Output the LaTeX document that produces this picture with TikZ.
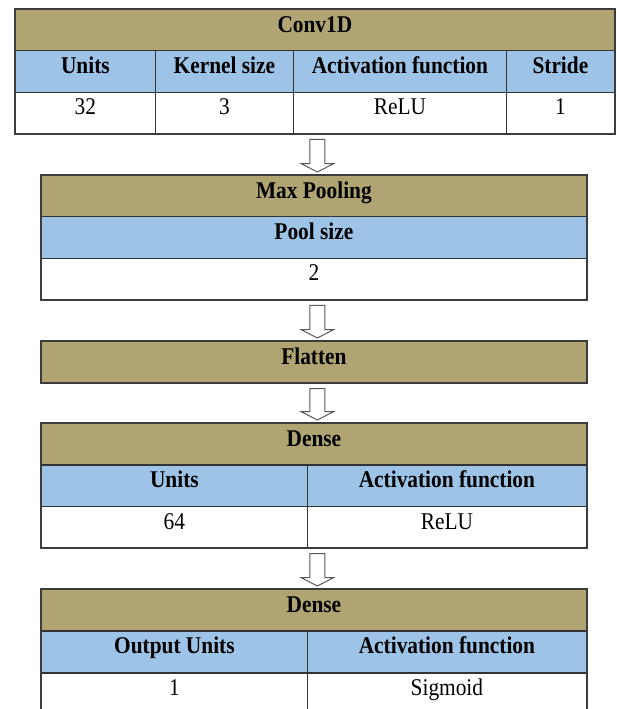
\documentclass[tikz,border=0pt]{standalone}
\usepackage{fontspec}
\setmainfont{Liberation Serif}[FakeStretch=0.89]
\usetikzlibrary{calc}
\definecolor{khaki}{RGB}{175,164,114}
\definecolor{headblue}{RGB}{157,195,230}
\definecolor{framegray}{RGB}{60,60,60}
\newcommand*{\celltextstyle}{\fontsize{24}{28}\selectfont}
\newcommand*{\headtextstyle}{\fontsize{24}{28}\selectfont\bfseries}
\newcommand{\blockarrow}[2]{%
   % upper node, lower node
   \pgfmathsetmacro{\arshaft}{7.5}
   \pgfmathsetmacro{\arhead}{16.5}
   \pgfmathsetmacro{\artip}{8.5}
   \draw[fill=white, draw=black!65, line width=1pt]
      let \p1 = (#1.south), \p2 = (#2.north) in
         ({\x2+3.5pt-\arshaft pt}, {\y1-5.5pt})
      -- ({\x2+3.5pt+\arshaft pt}, {\y1-5.5pt})
      -- ({\x2+3.5pt+\arshaft pt}, {\y2+3pt+\artip pt})
      -- ({\x2+3.5pt+\arhead pt}, {\y2+3pt+\artip pt})
      -- ({\x2+3.5pt}, {\y2+3pt})
      -- ({\x2+3.5pt-\arhead pt}, {\y2+3pt+\artip pt})
      -- ({\x2+3.5pt-\arshaft pt}, {\y2+3pt+\artip pt})
      -- cycle;
}
\tikzset{
   cell/.style={
      draw=black!80,
      line width=0.8pt,
      anchor=north west,
      inner sep=0pt,
      minimum height=41.3pt,
      text height=12pt,
      text depth=8pt,
      font=\celltextstyle},
   titlecell/.style={cell, fill=khaki, font=\headtextstyle},
   headcell/.style={cell, fill=headblue, font=\headtextstyle},
   tableframe/.style={draw=framegray, line width=1.8pt}
}

\begin{document}
\begin{tikzpicture}[x=1pt, y=-1pt]

    \useasboundingbox (0,0) rectangle (616,709);
    \clip (0,0) rectangle (616,709);

    % conv1d
    \node[titlecell, minimum width=599pt] at (15,9) (conv) {Conv1D};
    \node[headcell, minimum width=140pt] at (15,50.3) (convUnits) {Units};
    \node[headcell, minimum width=138pt] at (155,50.3) (convKernel) {Kernel size};
    \node[headcell, minimum width=213pt] at (293,50.3) (convAct) {Activation function};
    \node[headcell, minimum width=108pt] at (506,50.3) (convStride) {Stride};
    \node[cell, minimum width=140pt] at (15,91.7) (convUnitsVal) {32};
    \node[cell, minimum width=138pt] at (155,91.7) (convKernelVal) {3};
    \node[cell, minimum width=213pt] at (293,91.7) (convActVal) {ReLU};
    \node[cell, minimum width=108pt] at (506,91.7) (convStrideVal) {1};
    \draw[tableframe] (conv.north west) rectangle (convStrideVal.south east);

    % max pooling
    \node[titlecell, minimum width=545pt] at (41,175) (pool) {Max Pooling};
    \node[headcell, minimum width=545pt] at (41,216.3) (poolSize) {Pool size};
    \node[cell, minimum width=545pt] at (41,257.7) (poolSizeVal) {2};
    \draw[tableframe] (pool.north west) rectangle (poolSizeVal.south east);

    % flatten
    \node[titlecell, minimum width=545pt] at (41,341) (flatten) {Flatten};
    \draw[tableframe] (flatten.north west) rectangle (flatten.south east);

    % dense
    \node[titlecell, minimum width=545pt] at (41,423) (dense) {Dense};
    \node[headcell, minimum width=266pt] at (41,464.5) (denseUnits) {Units};
    \node[headcell, minimum width=279pt] at (307,464.5) (denseAct) {Activation function};
    \node[cell, minimum width=266pt] at (41,506) (denseUnitsVal) {64};
    \node[cell, minimum width=279pt] at (307,506) (denseActVal) {ReLU};
    \draw[tableframe] (dense.north west) rectangle (denseActVal.south east);

    % output dense
    \node[titlecell, minimum width=545pt] at (41,589) (out) {Dense};
    \node[headcell, minimum width=266pt] at (41,630.8) (outUnits) {Output Units};
    \node[headcell, minimum width=279pt] at (307,630.8) (outAct) {Activation function};
    \node[cell, minimum width=266pt] at (41,672.5) (outUnitsVal) {1};
    \node[cell, minimum width=279pt] at (307,672.5) (outActVal) {Sigmoid};
    \draw[tableframe] (out.north west) rectangle (outActVal.south east);

    % arrows between layers
    \blockarrow{convActVal}{pool}
    \blockarrow{poolSizeVal}{flatten}
    \blockarrow{flatten}{dense}
    \blockarrow{denseActVal}{out}

\end{tikzpicture}
\end{document}
